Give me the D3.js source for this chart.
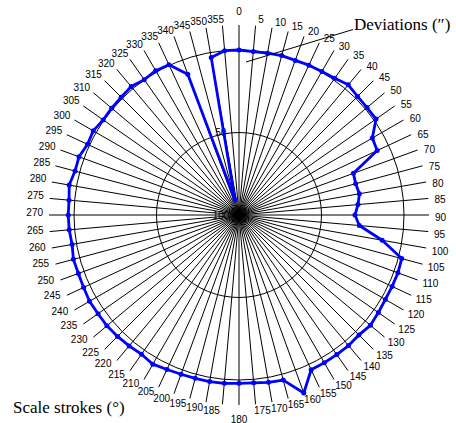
<!DOCTYPE html>
<html><head><meta charset="utf-8">
<script src="https://cdn.jsdelivr.net/npm/d3@7"></script>
<style>body{margin:0;background:#fff}svg{display:block}</style>
</head><body>
<svg id="c" width="456" height="423"></svg>
<script>
// Scale stroke angles (degrees)
const strokeAngles = [0,5,10,15,20,25,30,35,40,45,50,55,60,65,70,75,80,85,90,95,100,105,110,115,120,125,130,135,140,145,150,155,160,165,170,175,180,185,190,195,200,205,210,215,220,225,230,235,240,245,250,255,260,265,270,275,280,285,290,295,300,305,310,315,320,325,330,335,340,345,350,355];
// Deviations (″), radial axis reversed: 100 at centre, 0 on outer ring
const deviations = [0,0.6,0.4,0,0.3,-0.2,-0.4,-1.2,-3.0,-1.6,-1.3,-1.4,6.7,7.6,26.2,26.8,25.9,27.6,29.7,26.8,11.9,-2.1,-2.5,-2.4,-2.4,-3.1,-4.0,-2.8,-3.3,-3.3,-3.4,-3.5,-14.8,-3.6,-3.0,-2.1,-2.0,-2.4,-2.5,-2.5,-2.7,-3.3,-4.4,-3.0,-3.6,-4.1,-4.5,-4.3,-4.6,-3.9,-3.6,-3.9,-2.7,-3.3,-3.5,-3.4,-4.5,-2.9,-3.2,-1.3,-2.0,-0.5,-0.7,-1.0,-1.6,-0.1,-1.0,-0.5,9.2,90.2,3.0,0];
const ringValues = [50, 0];
const ringLabels = [50, 100];
const xTitle = "Scale strokes (°)";
const yTitle = "Deviations (″)";

const cx = 239, cy = 215, R = 165, Rline = 190, Rlab = 196;
const svg = d3.select("#c");
const g = svg.append("g").attr("transform", `translate(${cx},${cy})`);
const r = d3.scaleLinear().domain([100, 0]).range([0, R]);
const ang = d3.scaleLinear().domain([0, 360]).range([0, 2 * Math.PI]);
const px = (deg, rad) => rad * Math.sin(ang(deg));
const py = (deg, rad) => -rad * Math.cos(ang(deg));

// rings
g.selectAll("circle.ring").data(ringValues).join("circle")
  .attr("class", "ring").attr("r", d => r(d))
  .attr("fill", "none").attr("stroke", "#000").attr("stroke-width", 1);

// spokes
g.selectAll("line.spoke").data(strokeAngles).join("line")
  .attr("class", "spoke")
  .attr("x1", 0).attr("y1", 0)
  .attr("x2", d => px(d, Rline)).attr("y2", d => py(d, Rline))
  .attr("stroke", "#000").attr("stroke-width", 1);

// angle labels
g.selectAll("text.alab").data(strokeAngles).join("text")
  .attr("class", "alab")
  .attr("x", d => (d === 0 || d === 180) ? 0 : px(d + 0.6, Rlab))
  .attr("y", d => (d === 0 || d === 180) ? py(d, 204) : py(d + 0.6, Rlab))
  .attr("text-anchor", d => (d === 0 || d === 180) ? "middle" : (d < 180 ? "start" : "end"))
  .attr("dominant-baseline", "central")
  .attr("font-family", "'Liberation Sans', Arial, sans-serif")
  .attr("font-size", 10)
  .attr("fill", "#000")
  .text(d => d);

// ring labels
g.selectAll("text.rlab").data(ringLabels).join("text")
  .attr("class", "rlab")
  .attr("x", d => d === 100 ? -18 : px(-12.5, r(d) + 2))
  .attr("y", d => d === 100 ? 0 : py(-12.5, r(d) + 2))
  .attr("text-anchor", "middle")
  .attr("dominant-baseline", "central")
  .attr("font-family", "'Liberation Sans', Arial, sans-serif")
  .attr("font-size", 10)
  .attr("fill", "#000")
  .text(d => d);

// data line
const pts = strokeAngles.map((a, i) => ({a, v: deviations[i]}));
const line = d3.lineRadial()
  .angle(d => ang(d.a)).radius(d => r(d.v))
  .curve(d3.curveLinearClosed);
g.append("path").datum(pts)
  .attr("d", line)
  .attr("fill", "none").attr("stroke", "#0000ff")
  .attr("stroke-width", 2.8).attr("stroke-linejoin", "round");
g.selectAll("circle.pt").data(pts).join("circle")
  .attr("class", "pt")
  .attr("cx", d => px(d.a, r(d.v))).attr("cy", d => py(d.a, r(d.v)))
  .attr("r", 2.5).attr("fill", "#0000ff");

// titles
svg.append("line")
  .attr("x1", 246).attr("y1", 62).attr("x2", 353).attr("y2", 29.5)
  .attr("stroke", "#000").attr("stroke-width", 1);
svg.append("text").attr("x", 354).attr("y", 30)
  .attr("font-family", "'Liberation Serif', 'Times New Roman', serif")
  .attr("font-size", 17).text(yTitle);
svg.append("text").attr("x", 13).attr("y", 413)
  .attr("font-family", "'Liberation Serif', 'Times New Roman', serif")
  .attr("font-size", 17).text(xTitle);
</script>
</body></html>
